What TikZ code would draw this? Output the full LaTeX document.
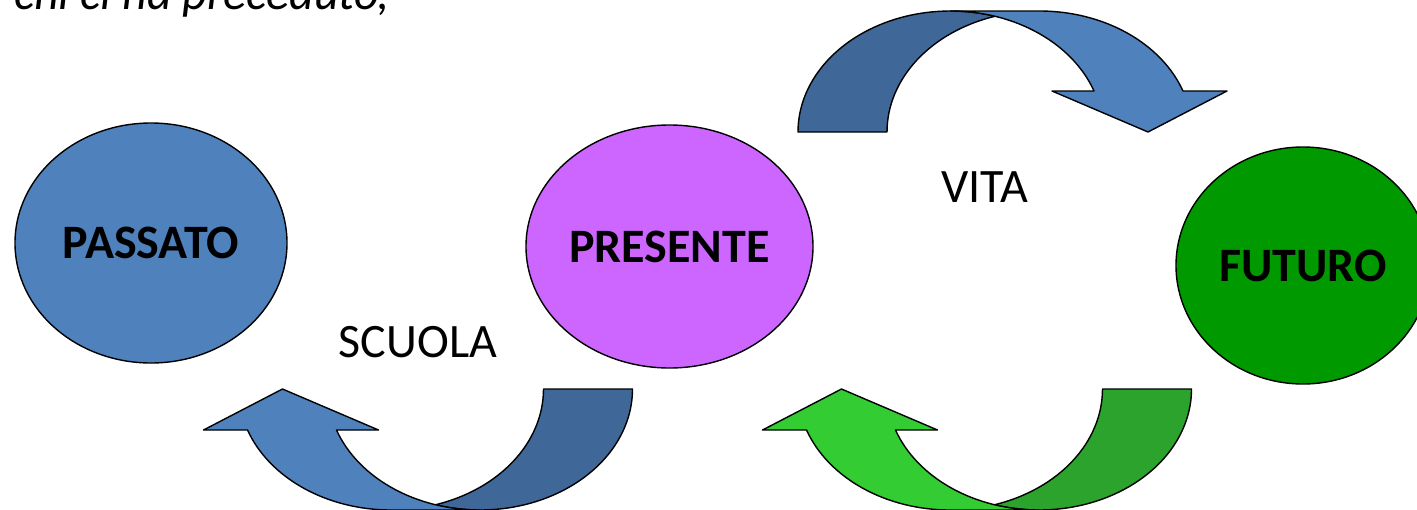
\documentclass[tikz,border=0pt]{standalone}
\usepackage{fontspec}
\setmainfont{Carlito}
\usetikzlibrary{shapes.geometric}

\definecolor{passblue}{HTML}{4F81BD}
\definecolor{darkblue}{HTML}{3F6899}
\definecolor{presviolet}{HTML}{CC66FF}
\definecolor{futgreen}{HTML}{009900}
\definecolor{lightgreen}{HTML}{33CC33}
\definecolor{darkgreen}{HTML}{2CA32C}

\tikzset{
  time/.style={shape=ellipse, draw=black, line width=1.4pt, inner sep=0pt,
    font=\fontsize{48}{57}\selectfont\bfseries},
  word/.style={font=\fontsize{48}{57}\selectfont, anchor=base, inner sep=0pt},
  band/.style={draw=black, line width=1.4pt, line join=round}
}

% bent arrow: tail at the origin, head on the right
\newcommand{\bentarrow}[2]{%
  \filldraw[fill=#1, band] (0,0)
    arc[start angle=180, end angle=286.97, x radius=152.5, y radius=121]
    arc[start angle=253.03, end angle=180, x radius=152.5, y radius=121] -- cycle;
  \filldraw[fill=#2, band] (350,0) -- (254,-41) -- (296,-41)
    arc[start angle=340.19, end angle=270, x radius=152.5, y radius=121]
    -- (241.5,-121)
    arc[start angle=270, end angle=340.19, x radius=152.5, y radius=121]
    -- (429,-41) -- cycle;
}

\begin{document}
\begin{tikzpicture}[x=1pt, y=-1pt]
    \useasboundingbox (0,0) rectangle (1417,509);
    \clip (0,0) rectangle (1417,509);

    \node[font=\fontsize{48}{57}\selectfont\itshape, anchor=base west, inner sep=0pt] (quote) at (14,9.5) {chi ci ha preceduto,};

    \node[time, fill=passblue, minimum width=272pt, minimum height=240pt] (passato) at (151,243) {PASSATO};
    \node[time, fill=presviolet, minimum width=287pt, minimum height=243pt] (presente) at (669.5,246.5) {PRESENTE};
    \node[time, fill=futgreen, minimum width=254pt, minimum height=237pt] (futuro) at (1303,265.5) {FUTURO};

    \node[word] (scuola) at (418,357) {SCUOLA};
    \node[word] (vita) at (984.5,202) {VITA};

    % arrows
    \begin{scope}[shift={(798,132)}]
        \bentarrow{darkblue}{passblue}
    \end{scope}
    \begin{scope}[shift={(632.5,389)}, rotate=180]
        \bentarrow{darkblue}{passblue}
    \end{scope}
    \begin{scope}[shift={(1191.5,389)}, rotate=180]
        \bentarrow{darkgreen}{lightgreen}
    \end{scope}

\end{tikzpicture}
\end{document}
